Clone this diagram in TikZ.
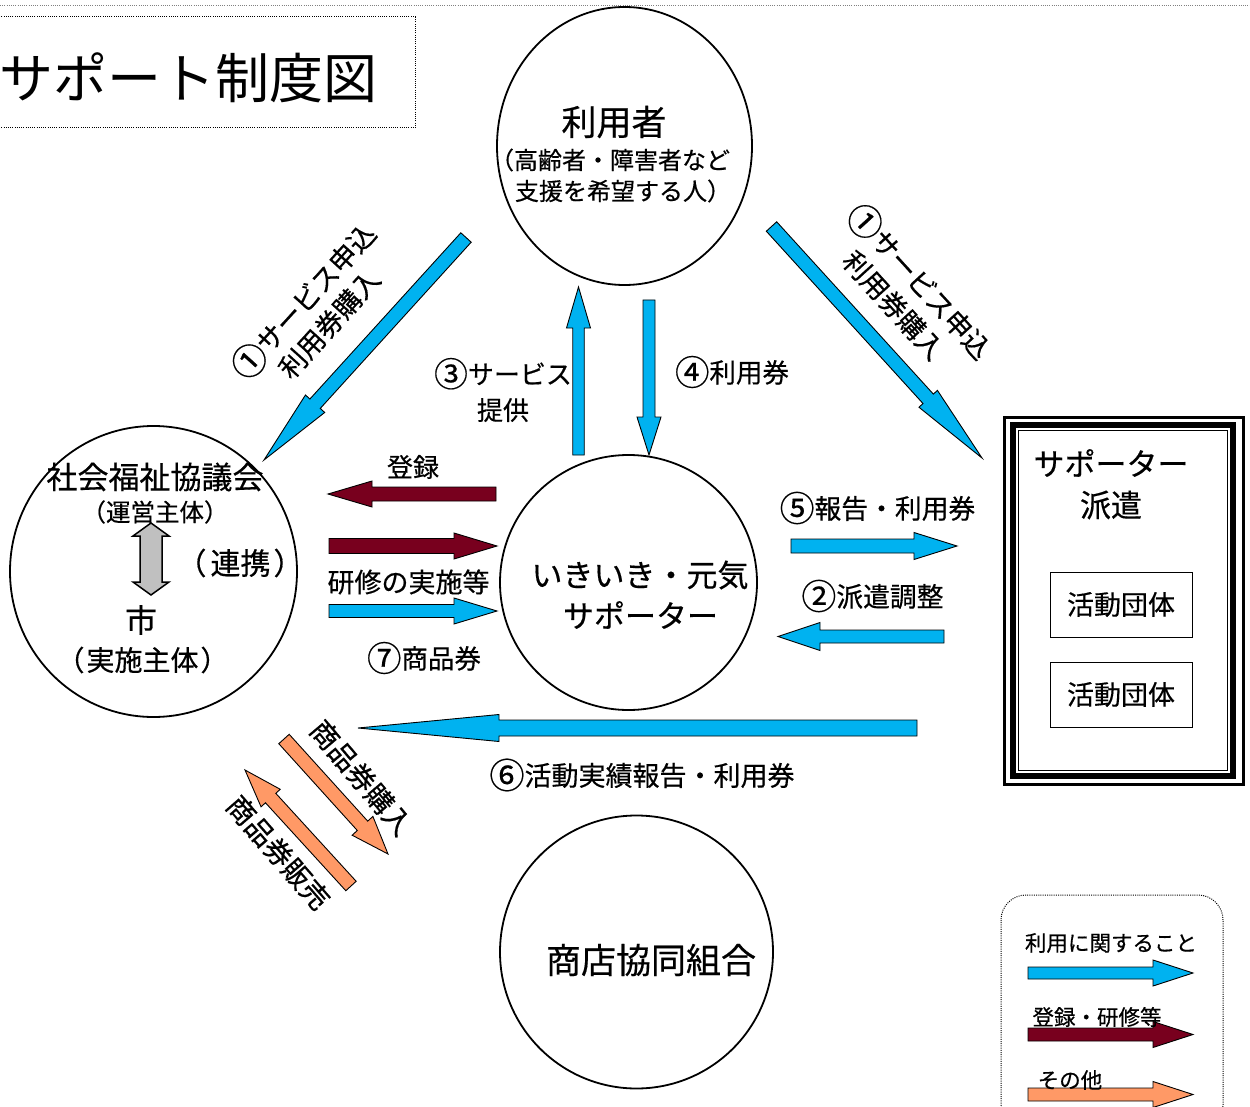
\documentclass[tikz,border=0pt]{standalone}
\usepackage{fontspec}
\usepackage{graphicx}
\setmainfont{Noto Sans CJK JP}[FakeBold=0.45]
\newfontfamily\titlefont{Noto Sans CJK JP}
\usetikzlibrary{calc,shapes.geometric}
\definecolor{ublue}{RGB}{0,178,240}
\definecolor{dred}{RGB}{120,0,30}
\definecolor{orng}{RGB}{255,153,102}
\definecolor{lgray}{RGB}{192,192,192}
\newcommand\jfs[1]{\fontsize{#1}{#1}\selectfont}
\newcommand\cnum[1]{\raisebox{-0.1em}{\scalebox{1.3}{#1}}}
% block arrow: style, tail, tip, shaft half width, head half width, head length
\newcommand\barrow[6]{%
  \coordinate (bhb) at ($(#3)!#6!(#2)$);
  \draw[#1] ($(#2)!#4!90:(#3)$)
    -- ($(bhb)!#4!90:(#3)$)
    -- ($(bhb)!#5!90:(#3)$)
    -- (#3)
    -- ($(bhb)!#5!-90:(#3)$)
    -- ($(bhb)!#4!-90:(#3)$)
    -- ($(#2)!#4!-90:(#3)$) -- cycle;}
\begin{document}
\begin{tikzpicture}[x=1pt,y=-1pt,
  lbl/.style={inner sep=0pt, text=black},
  circ/.style={draw, ellipse, inner sep=0pt, line width=1.8pt},
  bluear/.style={fill=ublue, draw=black, line width=0.9pt},
  redar/.style={fill=dred, draw=black, line width=0.9pt},
  orar/.style={fill=orng, draw=black, line width=0.9pt},
  dotline/.style={line width=1pt, dash pattern=on 1pt off 1.2pt}]
\useasboundingbox (0,0) rectangle (1250,1107);
\fill[white] (0,0) rectangle (1250,1107);

% top dotted line and title
\coordinate (topL) at (0,6); \coordinate (topR) at (1250,6);
\draw[dotline, gray] (topL) -- (topR);
\node[draw, dotline, minimum width=418pt, minimum height=111pt, inner sep=0pt] (titlebox) at (206,72.5) {};
\node[lbl, font=\titlefont\jfs{54}] (title) at (188,78) {サポート制度図};

% circles
\node[circ, minimum width=255pt, minimum height=278pt] (user) at (624.5,146) {};
\node[circ, minimum width=287pt, minimum height=291pt] (shakyo) at (153.5,571.5) {};
\node[circ, minimum width=257pt, minimum height=255pt] (iki) at (628.5,582.5) {};
\node[circ, minimum width=273pt, minimum height=273pt] (shoten) at (636.5,952) {};

% circle texts
\node[lbl, font=\jfs{35}] (userT) at (614,122) {利用者};
\node[lbl, font=\jfs{24}] (userS1) at (610,160) {（高齢者・障害者など};
\node[lbl, font=\jfs{24}] (userS2) at (623,191) {支援を希望する人）};

\node[lbl, font=\jfs{31}] (shakyoT) at (155,477) {社会福祉協議会};
\node[lbl, font=\jfs{24.5}] (shakyoS) at (155,512) {（運営主体）};
\node[lbl, font=\jfs{32}] (cityT) at (141,620) {市};
\node[lbl, font=\jfs{28}] (cityS) at (142.5,660) {（\kern2pt 実施主体\kern2pt ）};
\node[lbl, font=\jfs{30}] (renkei) at (240,563) {（\kern4pt 連携\kern3pt ）};

\node[lbl, font=\jfs{31}] (ikiT1) at (640,575) {いきいき・元気};
\node[lbl, font=\jfs{31}] (ikiT2) at (640.5,615) {サポーター};

\node[lbl, font=\jfs{35}] (shotenT) at (651,960) {商店協同組合};

% gray double arrow
\coordinate (lt) at (151,523); \coordinate (lb) at (151,595);
\draw[fill=lgray, line width=1.5pt] (lt) -- ($(lt)+(18,13)$) -- ($(lt)+(11,13)$) -- ($(lb)+(11,-13)$) -- ($(lb)+(18,-13)$) -- (lb) -- ($(lb)+(-18,-13)$) -- ($(lb)+(-11,-13)$) -- ($(lt)+(-11,13)$) -- ($(lt)+(-18,13)$) -- cycle;

% support dispatch box
\node[draw, line width=3pt, minimum width=239pt, minimum height=367pt, inner sep=0pt] (disp) at (1124,601) {};
\draw[line width=5.5pt] ($(disp.north west)+(10,9)$) rectangle ($(disp.south east)+(-12,-10)$);
\draw[line width=1pt] ($(disp.north west)+(15.5,14.5)$) rectangle ($(disp.south east)+(-17.5,-15.5)$);
\node[lbl, font=\jfs{31}] (dispT1) at (1111,463) {サポーター};
\node[lbl, font=\jfs{31}] (dispT2) at (1111,505) {派遣};
\node[draw, line width=1pt, minimum width=142pt, minimum height=65pt, inner sep=0pt, font=\jfs{27}] (grp1) at (1121,604.5) {活動団体};
\node[draw, line width=1pt, minimum width=142pt, minimum height=65pt, inner sep=0pt, font=\jfs{27}] (grp2) at (1121,694.5) {活動団体};

% arrows
\coordinate (a1Lt) at (466,237.5); \coordinate (a1Lh) at (264,460);
\barrow{bluear}{a1Lt}{a1Lh}{7pt}{13pt}{76pt}
\coordinate (a1Rt) at (771.5,226.5); \coordinate (a1Rh) at (982,458);
\barrow{bluear}{a1Rt}{a1Rh}{7pt}{12.5pt}{80pt}
\coordinate (a3t) at (578.5,455); \coordinate (a3h) at (578.5,287);
\barrow{bluear}{a3t}{a3h}{5.75pt}{12pt}{41pt}
\coordinate (a4t) at (649,300); \coordinate (a4h) at (649,455);
\barrow{bluear}{a4t}{a4h}{6pt}{12pt}{38pt}
\coordinate (regt) at (496,494); \coordinate (regh) at (328,494);
\barrow{redar}{regt}{regh}{7pt}{13pt}{44pt}
\coordinate (trt) at (329,546); \coordinate (trh) at (497,546);
\barrow{redar}{trt}{trh}{7.5pt}{13pt}{43pt}
\coordinate (a7t) at (329,611); \coordinate (a7h) at (497,611);
\barrow{bluear}{a7t}{a7h}{6.5pt}{13pt}{43pt}
\coordinate (a6t) at (917,728); \coordinate (a6h) at (358,728);
\barrow{bluear}{a6t}{a6h}{8pt}{13.5pt}{141pt}
\coordinate (a5t) at (791,546); \coordinate (a5h) at (957,546);
\barrow{bluear}{a5t}{a5h}{7pt}{13.5pt}{43pt}
\coordinate (a2t) at (944,636.5); \coordinate (a2h) at (778,636.5);
\barrow{bluear}{a2t}{a2h}{6.5pt}{14pt}{42pt}
\coordinate (buyt) at (284,739); \coordinate (buyh) at (388,854);
\barrow{orar}{buyt}{buyh}{7pt}{14pt}{38pt}
\coordinate (sellt) at (351,886); \coordinate (sellh) at (245,770);
\barrow{orar}{sellt}{sellh}{7pt}{13pt}{38pt}

% arrow labels
\node[lbl, font=\fontsize{27}{34}\selectfont, align=center, rotate=47.8] (l1L) at (315,311) {\cnum{①}サービス申込\\利用券購入};
\node[lbl, font=\fontsize{27}{35}\selectfont, align=center, rotate=-47.7] (l1R) at (908,292) {\cnum{①}サービス申込\\利用券購入};
\node[lbl, font=\fontsize{26}{36}\selectfont, align=center] (l3) at (503,390) {\cnum{③}サービス\\提供};
\node[lbl, font=\jfs{26.5}] (l4) at (732,372) {\cnum{④}利用券};
\node[lbl, font=\jfs{26}] (lreg) at (413,467) {登録};
\node[lbl, font=\jfs{27}] (ltr) at (408.5,582) {研修の実施等};
\node[lbl, font=\jfs{26.5}] (l7) at (424,658) {\cnum{⑦}商品券};
\node[lbl, font=\jfs{27}] (l6) at (642,775) {\cnum{⑥}活動実績報告・利用券};
\node[lbl, font=\jfs{26.8}] (l5) at (877.5,508) {\cnum{⑤}報告・利用券};
\node[lbl, font=\jfs{26.8}] (l2) at (872.5,596) {\cnum{②}派遣調整};
\node[lbl, font=\jfs{28}, rotate=-49.8] (lbuy) at (361.5,777.5) {商品券購入};
\node[lbl, font=\jfs{28}, rotate=-49] (lsell) at (278.5,852.5) {商品券販売};

% legend
\draw[dotline, rounded corners=25pt] (1001,895) rectangle (1223,1130);
\coordinate (lg1t) at (1028,973); \coordinate (lg1h) at (1193,973);
\barrow{bluear}{lg1t}{lg1h}{6pt}{13pt}{40pt}
\coordinate (lg2t) at (1028,1034.5); \coordinate (lg2h) at (1193,1034.5);
\barrow{redar}{lg2t}{lg2h}{6.5pt}{13pt}{40pt}
\coordinate (lg3t) at (1028,1094.5); \coordinate (lg3h) at (1193,1094.5);
\barrow{orar}{lg3t}{lg3h}{6.5pt}{13pt}{40pt}
\node[lbl, font=\jfs{21.5}] (lgT1) at (1111,943) {利用に関すること};
\node[lbl, font=\jfs{21.5}] (lgT2) at (1097,1017) {登録・研修等};
\node[lbl, font=\jfs{21.5}] (lgT3) at (1070,1080) {その他};
\end{tikzpicture}
\end{document}
